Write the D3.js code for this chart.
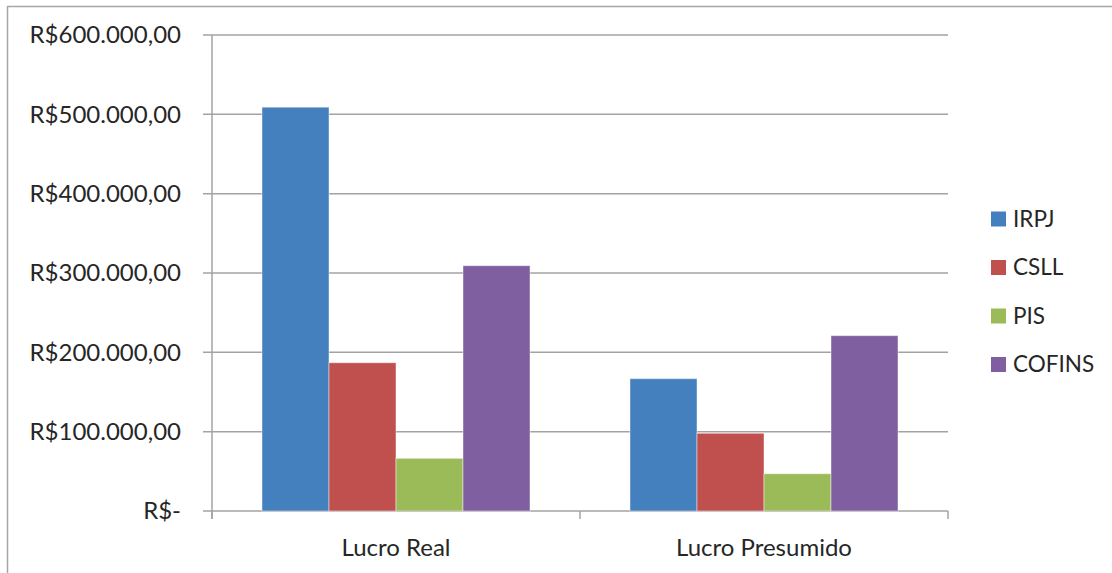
<!DOCTYPE html>
<html>
<head>
<meta charset="utf-8">
<script src="https://cdn.jsdelivr.net/npm/d3@7"></script>
<style>
  body { margin: 0; background: #fff; }
  text { font-family: Lato, "Open Sans", sans-serif; fill: #262626; }
</style>
</head>
<body>
<script>
// data
var categories = ['Lucro Real', 'Lucro Presumido'];
var seriesNames = ['IRPJ', 'CSLL', 'PIS', 'COFINS'];
var irpj = [509000, 166800];
var csll = [186900, 98000];
var pis = [66400, 47000];
var cofins = [309200, 221000];
var yTicks = [0, 100000, 200000, 300000, 400000, 500000, 600000];
var yTickLabels = ['R$-', 'R$100.000,00', 'R$200.000,00', 'R$300.000,00', 'R$400.000,00', 'R$500.000,00', 'R$600.000,00'];
var colors = ['#4480BE', '#C0504D', '#9BBB59', '#7F5FA0'];

var seriesValues = [irpj, csll, pis, cofins];
var rows = categories.map((c, i) => ({cat: c, vals: seriesNames.map((s, j) => ({key: s, value: seriesValues[j][i]}))}));

var W = 1112, H = 573;
var plot = {left: 212, right: 948, top: 35, bottom: 511};

var svg = d3.select('body').append('svg').attr('width', W).attr('height', H);

// outer frame (only top and left visible)
svg.append('path').attr('d', 'M7.5,' + H + 'V6.5H' + W)
    .attr('fill', 'none').attr('stroke', '#a6a6a6').attr('stroke-width', 1.5);

var x = d3.scaleBand().domain(categories).range([plot.left, plot.right]).paddingInner(0).paddingOuter(0);
var xInner = d3.scaleBand().domain(seriesNames).range([50, x.bandwidth() - 50]);
var y = d3.scaleLinear().domain([0, 600000]).range([plot.bottom, plot.top]);

// gridlines
svg.append('g').selectAll('line').data(yTicks).enter().append('line')
    .attr('x1', plot.left - 9).attr('x2', plot.right)
    .attr('y1', d => y(d)).attr('y2', d => y(d))
    .attr('stroke', '#a3a3a3').attr('stroke-width', 1.5);

// y axis line
svg.append('line').attr('x1', plot.left).attr('x2', plot.left)
    .attr('y1', plot.top).attr('y2', plot.bottom + 8)
    .attr('stroke', '#a3a3a3').attr('stroke-width', 1.5);

// x category ticks
svg.append('g').selectAll('line').data(categories.concat(['end'])).enter().append('line')
    .attr('x1', (d, i) => i < categories.length ? x(d) : plot.right)
    .attr('x2', (d, i) => i < categories.length ? x(d) : plot.right)
    .attr('y1', plot.bottom).attr('y2', plot.bottom + 8)
    .attr('stroke', '#a3a3a3').attr('stroke-width', 1.5);

// y labels
svg.append('g').selectAll('text').data(yTicks).enter().append('text')
    .attr('x', 181).attr('y', d => y(d)).attr('dy', '0.35em')
    .attr('text-anchor', 'end').attr('font-size', 24)
    .text((d, i) => yTickLabels[i]);

// bars
var groups = svg.append('g').selectAll('g').data(rows).enter().append('g')
    .attr('transform', d => 'translate(' + x(d.cat) + ',0)');

groups.selectAll('rect').data(d => d.vals).enter().append('rect')
    .attr('x', d => xInner(d.key))
    .attr('width', xInner.bandwidth())
    .attr('y', d => y(d.value))
    .attr('height', d => plot.bottom - y(d.value))
    .attr('fill', (d, i) => colors[i])
    .attr('stroke', 'rgba(255,255,255,0.45)').attr('stroke-width', 1);

// x labels
svg.append('g').selectAll('text').data(categories).enter().append('text')
    .attr('x', d => x(d) + x.bandwidth() / 2).attr('y', 556)
    .attr('text-anchor', 'middle').attr('font-size', 24)
    .text(d => d);

// legend
var legend = svg.append('g').selectAll('g').data(seriesNames).enter().append('g')
    .attr('transform', (d, i) => 'translate(991,' + (219 + i * 48.5) + ')');
legend.append('rect').attr('x', 0).attr('y', -7.5).attr('width', 15).attr('height', 15)
    .attr('fill', (d, i) => colors[i]);
legend.append('text').attr('x', 22).attr('y', 0).attr('dy', '0.35em')
    .attr('font-size', 22.5).text(d => d);
</script>
</body>
</html>
